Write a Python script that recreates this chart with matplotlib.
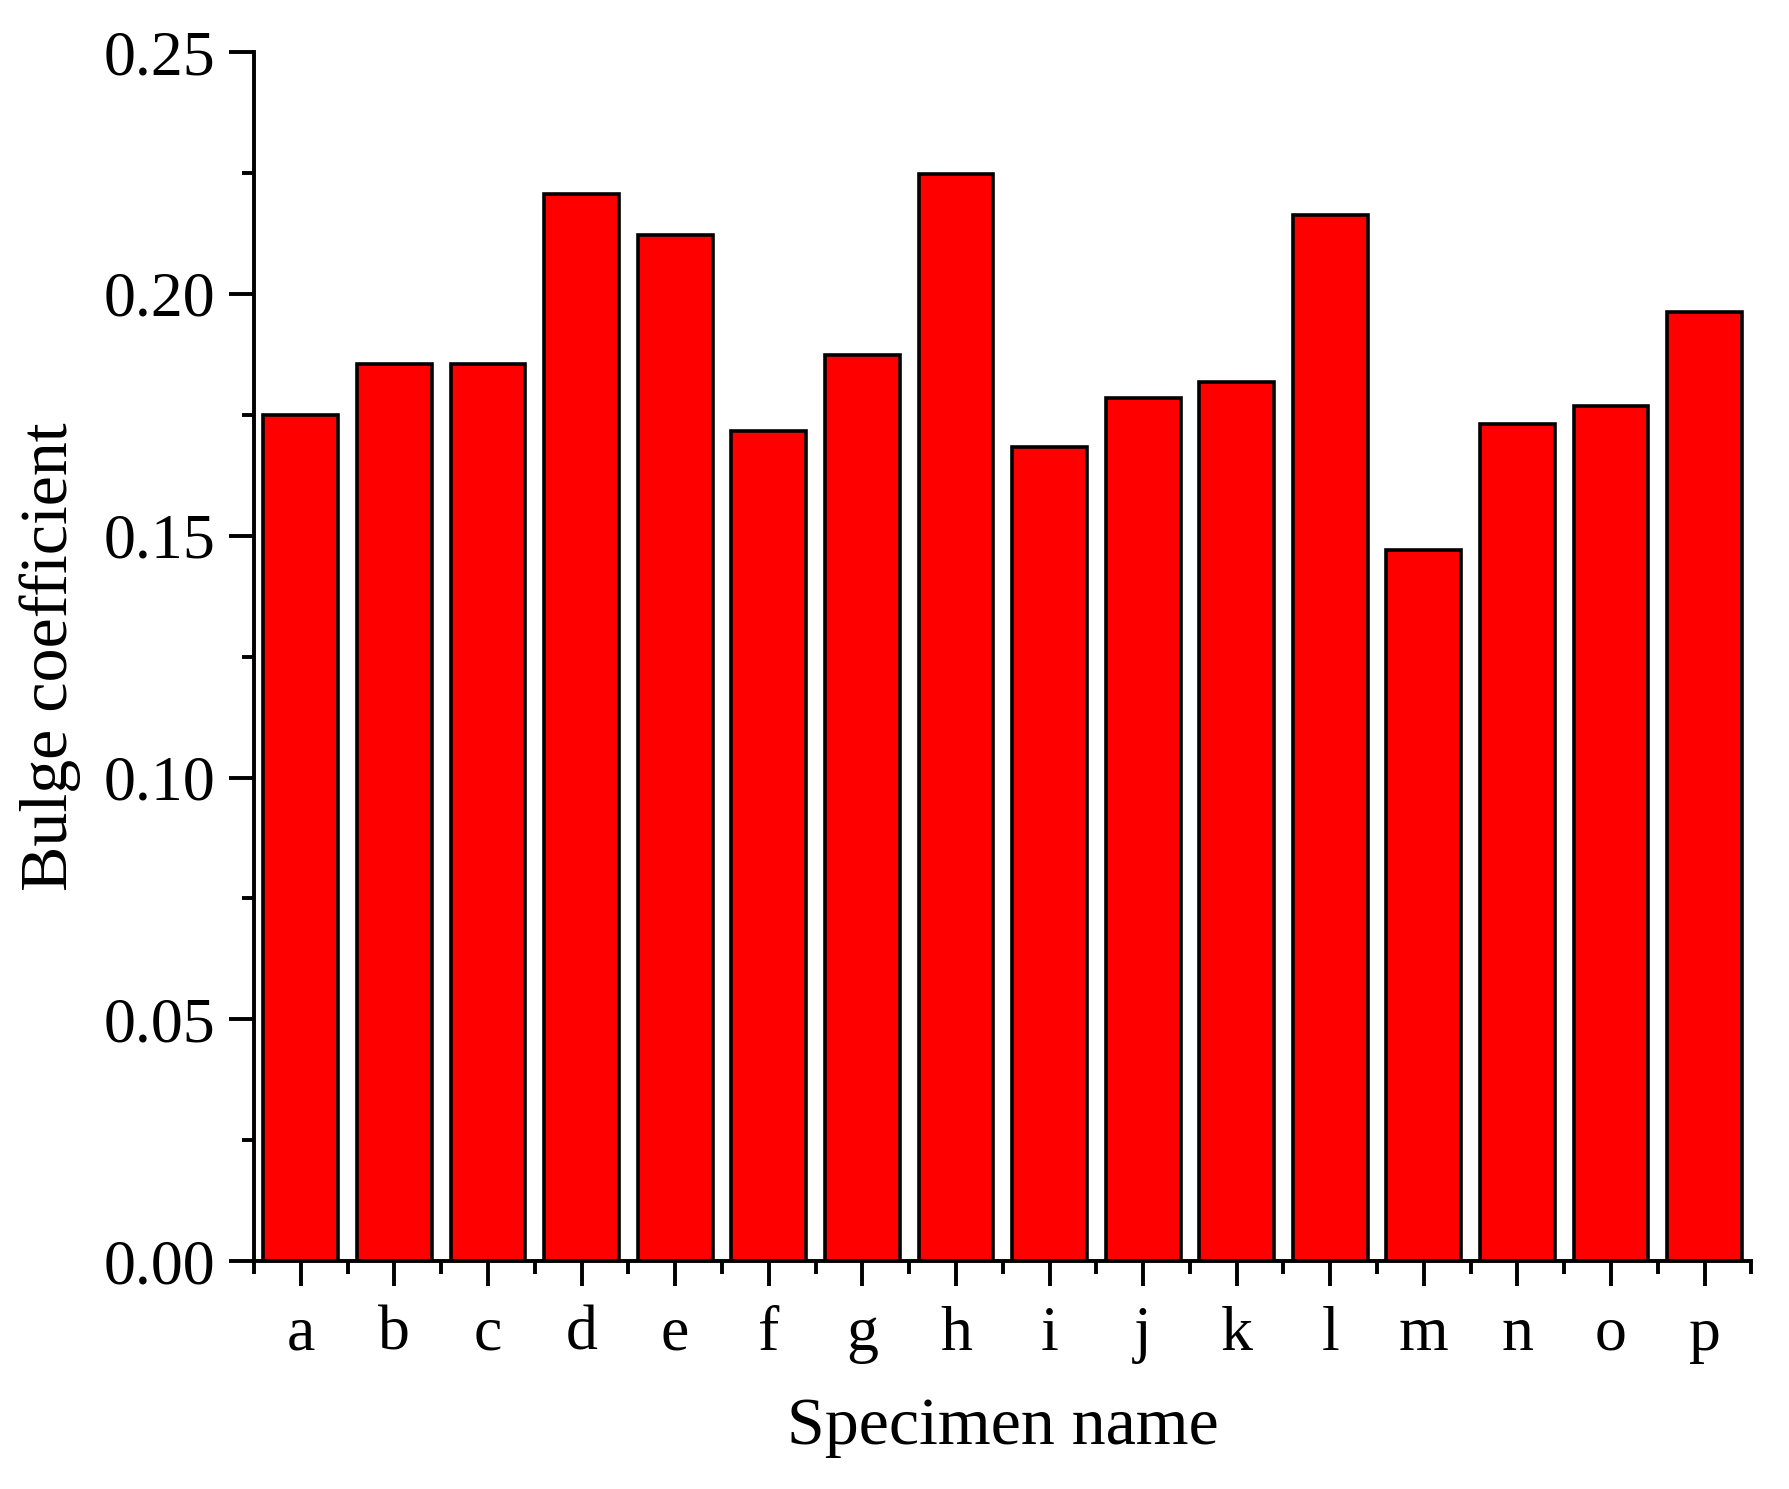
import numpy as np
import matplotlib.pyplot as plt
from matplotlib.ticker import MultipleLocator, FixedLocator

specimens = ['a', 'b', 'c', 'd', 'e', 'f', 'g', 'h',
             'i', 'j', 'k', 'l', 'm', 'n', 'o', 'p']
bulge = [0.175, 0.1855, 0.1855, 0.2206, 0.2121, 0.1716, 0.1873, 0.2249,
         0.1683, 0.1784, 0.1817, 0.2164, 0.1470, 0.1732, 0.1768, 0.1962]

plt.rcParams['font.family'] = ['Liberation Serif', 'DejaVu Serif']

x = np.arange(1, len(specimens) + 1)

fig = plt.figure(figsize=(17.89, 14.89), dpi=100)
ax = fig.add_axes([0.142, 0.153, 0.837, 0.812])

ax.bar(x, bulge, width=0.8, color='#ff0000', edgecolor='black', linewidth=2.6, zorder=2)

ax.set_xlim(0.5, len(specimens) + 0.5)
ax.set_ylim(0, 0.25)

ax.set_xticks(x)
ax.set_xticklabels(specimens)
ax.xaxis.set_minor_locator(FixedLocator(np.arange(0.5, len(specimens) + 1, 1.0)))
ax.yaxis.set_major_locator(MultipleLocator(0.05))
ax.yaxis.set_minor_locator(MultipleLocator(0.025))
ax.set_yticklabels(['%.2f' % v for v in ax.get_yticks()])

for s in ['top', 'right']:
    ax.spines[s].set_visible(False)
for s in ['left', 'bottom']:
    ax.spines[s].set_linewidth(2.8)

ax.tick_params(which='major', direction='out', length=18, width=2.8, labelsize=46, pad=10)
ax.tick_params(which='minor', direction='out', length=9, width=2.8)
ax.tick_params(axis='x', which='major', pad=14)

ax.set_xlabel('Specimen name', fontsize=49, labelpad=24)
ax.set_ylabel('Bulge coefficient', fontsize=49, labelpad=16)

plt.savefig('out.png', dpi=100)
